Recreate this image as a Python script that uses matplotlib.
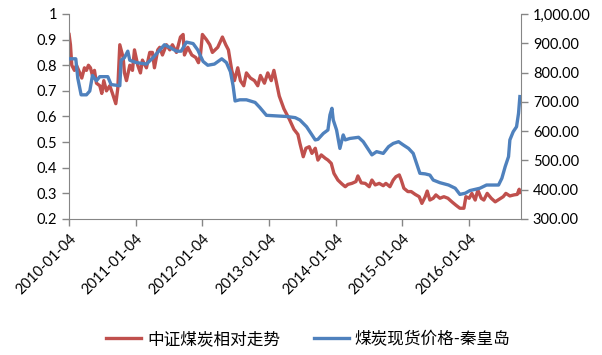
import pandas as pd
import matplotlib
matplotlib.use("Agg")
import matplotlib.pyplot as plt

plt.rcParams['font.family'] = ['Lato', 'Noto Sans CJK SC', 'DejaVu Sans']

# 中证煤炭相对走势 (left axis), time given as decimal years
red_t = [2010.01, 2010.03, 2010.05, 2010.09, 2010.12, 2010.17, 2010.20, 2010.24, 2010.27, 2010.30,
         2010.33, 2010.36, 2010.39, 2010.42, 2010.47, 2010.50, 2010.53, 2010.57, 2010.62, 2010.66,
         2010.71, 2010.74, 2010.77, 2010.82, 2010.84, 2010.87, 2010.92, 2010.96, 2010.99, 2011.04,
         2011.08, 2011.11, 2011.17, 2011.22, 2011.26, 2011.29, 2011.34, 2011.37, 2011.41, 2011.47,
         2011.52, 2011.56, 2011.62, 2011.68, 2011.72, 2011.74, 2011.79, 2011.85, 2011.91, 2011.95,
         2011.98, 2012.01, 2012.07, 2012.12, 2012.16, 2012.24, 2012.31, 2012.36, 2012.40, 2012.45,
         2012.49, 2012.54, 2012.58, 2012.63, 2012.67, 2012.73, 2012.79, 2012.84, 2012.88, 2012.94,
         2012.99, 2013.04, 2013.08, 2013.12, 2013.16, 2013.23, 2013.31, 2013.38, 2013.44, 2013.47,
         2013.52, 2013.56, 2013.61, 2013.65, 2013.70, 2013.74, 2013.79, 2013.85, 2013.89, 2013.94,
         2013.98, 2014.04, 2014.10, 2014.15, 2014.19, 2014.25, 2014.31, 2014.34, 2014.39, 2014.45,
         2014.51, 2014.55, 2014.60, 2014.66, 2014.72, 2014.76, 2014.82, 2014.87, 2014.91, 2014.96,
         2014.99, 2015.03, 2015.09, 2015.14, 2015.20, 2015.26, 2015.30, 2015.35, 2015.38, 2015.42,
         2015.47, 2015.51, 2015.57, 2015.63, 2015.69, 2015.75, 2015.81, 2015.87, 2015.93, 2015.96,
         2016.01, 2016.05, 2016.10, 2016.14, 2016.19, 2016.23, 2016.28, 2016.34, 2016.40, 2016.46,
         2016.52, 2016.56, 2016.62, 2016.68, 2016.73, 2016.76, 2016.77]
red_v = [0.92, 0.88, 0.80, 0.78, 0.80, 0.77, 0.75, 0.79, 0.78, 0.80,
         0.79, 0.76, 0.78, 0.73, 0.72, 0.69, 0.74, 0.70, 0.72, 0.69,
         0.65, 0.71, 0.88, 0.83, 0.77, 0.74, 0.80, 0.78, 0.86, 0.80,
         0.77, 0.82, 0.79, 0.85, 0.85, 0.79, 0.86, 0.87, 0.84, 0.88,
         0.86, 0.88, 0.85, 0.91, 0.92, 0.84, 0.87, 0.84, 0.83, 0.81,
         0.84, 0.92, 0.90, 0.88, 0.85, 0.87, 0.91, 0.88, 0.86, 0.78,
         0.74, 0.79, 0.74, 0.72, 0.77, 0.75, 0.74, 0.72, 0.76, 0.73,
         0.77, 0.74, 0.78, 0.73, 0.68, 0.63, 0.59, 0.55, 0.53, 0.495,
         0.443, 0.476, 0.482, 0.456, 0.476, 0.430, 0.450, 0.437, 0.430, 0.417,
         0.378, 0.352, 0.337, 0.326, 0.335, 0.339, 0.346, 0.368, 0.341, 0.339,
         0.326, 0.352, 0.333, 0.339, 0.330, 0.339, 0.326, 0.352, 0.365, 0.372,
         0.352, 0.320, 0.307, 0.307, 0.296, 0.287, 0.261, 0.287, 0.309, 0.274,
         0.281, 0.294, 0.281, 0.287, 0.281, 0.267, 0.254, 0.242, 0.242, 0.287,
         0.281, 0.300, 0.274, 0.313, 0.281, 0.274, 0.300, 0.281, 0.267, 0.277,
         0.287, 0.300, 0.290, 0.294, 0.296, 0.316, 0.303]

# 煤炭现货价格-秦皇岛 (right axis)
blue_t = [2010.01, 2010.11, 2010.14, 2010.19, 2010.27, 2010.32, 2010.36, 2010.42, 2010.47, 2010.59,
          2010.64, 2010.77, 2010.79, 2010.84, 2010.89, 2010.92, 2011.02, 2011.17, 2011.27, 2011.37,
          2011.44, 2011.52, 2011.62, 2011.69, 2011.77, 2011.87, 2011.94, 2012.02, 2012.09, 2012.19,
          2012.30, 2012.37, 2012.43, 2012.47, 2012.50, 2012.57, 2012.67, 2012.80, 2012.87, 2012.97,
          2013.27, 2013.40, 2013.47, 2013.57, 2013.70, 2013.74, 2013.82, 2013.89, 2013.92, 2013.95,
          2013.97, 2014.02, 2014.07, 2014.12, 2014.15, 2014.22, 2014.35, 2014.42, 2014.55, 2014.62,
          2014.72, 2014.80, 2014.87, 2014.95, 2015.02, 2015.10, 2015.17, 2015.22, 2015.27, 2015.35,
          2015.42, 2015.47, 2015.57, 2015.70, 2015.80, 2015.87, 2015.95, 2016.02, 2016.17, 2016.27,
          2016.37, 2016.45, 2016.50, 2016.55, 2016.60, 2016.62, 2016.67, 2016.72, 2016.75, 2016.77]
blue_v = [847, 847, 781, 724, 724, 737, 790, 772, 786, 786,
          759, 755, 842, 851, 873, 842, 834, 829, 851, 877,
          895, 886, 873, 873, 904, 899, 877, 838, 825, 829,
          847, 834, 803, 755, 703, 707, 707, 698, 681, 654,
          650, 646, 638, 615, 570, 572, 592, 604, 655, 678,
          638, 604, 541, 587, 570, 575, 579, 564, 519, 530,
          524, 547, 558, 564, 553, 541, 524, 490, 456, 454,
          450, 433, 424, 416, 405, 384, 388, 397, 405, 416,
          416, 416, 439, 479, 513, 570, 598, 615, 661, 718]

x_ticks = ["2010-01-04", "2011-01-04", "2012-01-04", "2013-01-04",
           "2014-01-04", "2015-01-04", "2016-01-04"]


def to_dates(years):
    out = []
    for y in years:
        base = pd.Timestamp(int(y), 1, 1)
        out.append(base + pd.Timedelta(days=(y - int(y)) * 365.25))
    return out


def main():
    gray = "#868686"
    fig = plt.figure(figsize=(6.02, 3.55), dpi=100)
    ax = fig.add_axes([0.1146, 0.3831, 0.7508, 0.5775])
    ax2 = ax.twinx()

    l1, = ax.plot(to_dates(red_t), red_v, color="#C0504D", lw=2.4,
                  label="中证煤炭相对走势")
    l2, = ax2.plot(to_dates(blue_t), blue_v, color="#4F81BD", lw=2.4,
                   label="煤炭现货价格-秦皇岛")

    ax.set_ylim(0.2, 1.0)
    ax.set_yticks([0.2, 0.3, 0.4, 0.5, 0.6, 0.7, 0.8, 0.9, 1.0])
    ax.set_yticklabels(["0.2", "0.3", "0.4", "0.5", "0.6", "0.7", "0.8", "0.9", "1"])
    ax2.set_ylim(300, 1000)
    ax2.set_yticks(range(300, 1001, 100))
    ax2.set_yticklabels([f"{v:,.2f}" for v in range(300, 1001, 100)])

    end = to_dates([red_t[-1]])[0]
    ax.set_xlim(pd.Timestamp("2010-01-04"), end + pd.Timedelta(days=6))
    ax.set_xticks([pd.Timestamp(t) for t in x_ticks])
    ax.set_xticklabels(x_ticks, rotation=45, ha="right", rotation_mode="anchor")

    for a in (ax, ax2):
        a.spines["top"].set_visible(False)
        for s in ("left", "right", "bottom"):
            a.spines[s].set_color(gray)
        a.tick_params(colors=gray, labelcolor="black", labelsize=10.5, length=5, width=1)
    ax.spines["right"].set_visible(False)
    ax2.spines["left"].set_visible(False)
    ax2.spines["bottom"].set_visible(False)
    ax.tick_params(axis="x", labelsize=10.5, pad=4)

    fig.legend(handles=[l1, l2], loc="center", bbox_to_anchor=(0.512, 0.045),
               ncol=2, frameon=False, fontsize=12, handlelength=2.1,
               columnspacing=2.0, handletextpad=0.35)

    fig.savefig("out.png", dpi=100)


if __name__ == "__main__":
    main()
